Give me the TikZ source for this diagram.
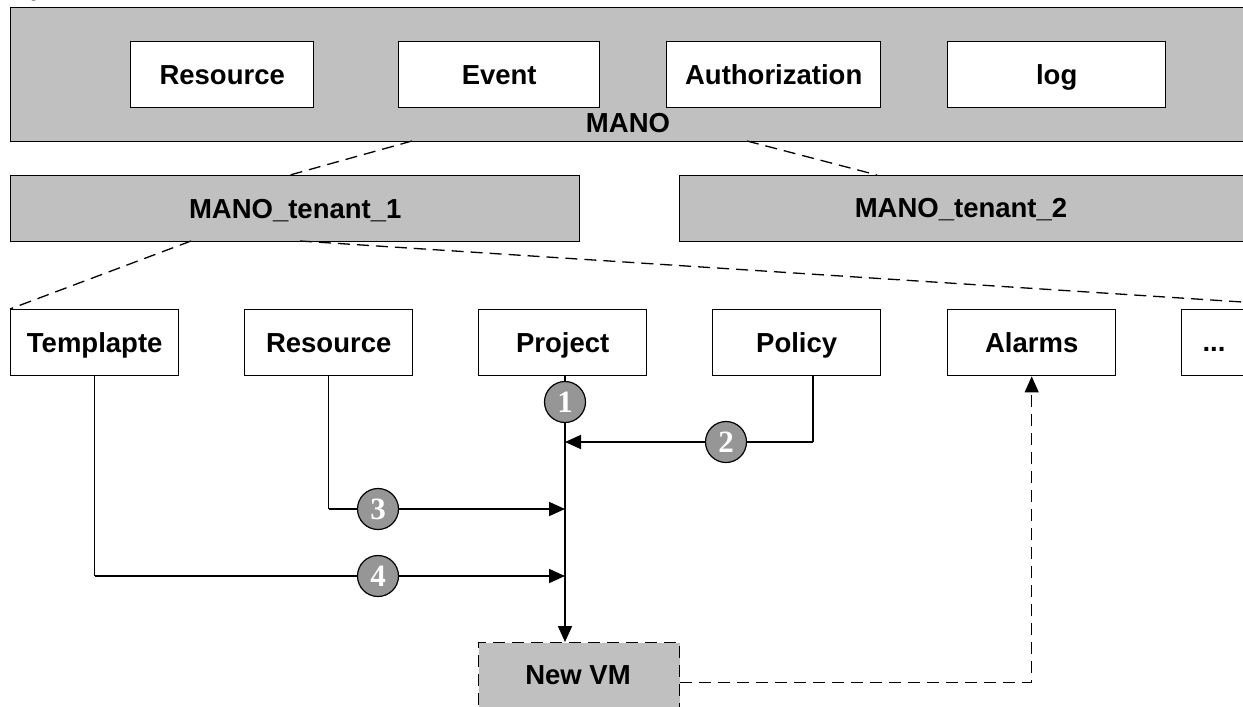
\documentclass[tikz,border=0pt]{standalone}
\usepackage{fontspec}
\setmainfont{Liberation Sans}
\newfontfamily\numfont{Liberation Serif}[BoldFont={Liberation Serif Bold}]
\usetikzlibrary{arrows.meta}
\definecolor{boxgray}{HTML}{C0C0C0}
\definecolor{dotgray}{HTML}{969696}
\begin{document}
\begin{tikzpicture}[x=1pt,y=-1pt,
  every node/.style={inner sep=0pt},
  label text/.style={font=\fontsize{27.5}{32}\selectfont\bfseries,
    text height=19.7pt, text depth=0pt},
  box/.style={draw, line width=1.4pt, fill=white, anchor=north west,
    minimum height=66pt, label text},
  graybox/.style={box, fill=boxgray},
  leaf/.style={box, minimum width=168pt},
  badge/.style={circle, draw, line width=1.2pt, fill=dotgray, minimum size=41pt,
    text=white, font=\numfont\fontsize{31}{34}\selectfont\bfseries,
    text height=21pt, text depth=0pt},
  flow/.style={line width=1.8pt, -{Triangle[length=16pt,width=14pt]}},
  link/.style={line width=1.2pt},
  tie/.style={line width=1.3pt, dash pattern=on 12pt off 7pt}]
\useasboundingbox (0,0) rectangle (1243,707);
\begin{scope}
\clip (0,0) rectangle (1243,707);

% caption above the figure
\node[anchor=base, font=\numfont\fontsize{16}{18}\selectfont] (cap) at (34,-3) {g};

% MANO frame with its four services
\node[graybox, minimum width=1300pt, minimum height=134pt] (mano) at (10,7) {};
\node[box, minimum width=183pt] (res) at (130,41) {Resource};
\node[box, minimum width=201pt] (evt) at (398,41) {Event};
\node[box, minimum width=214pt] (auth) at (666,41) {Authorization};
\node[box, minimum width=218pt] (log) at (947,41) {log};
\node[label text] (manolbl) at (628,123) {MANO};

% tenants
\node[graybox, minimum width=569pt] (t1) at (10,175) {MANO\_tenant\_1};
\node[graybox, minimum width=700pt] (t2) at (679,175) {};
\node[label text] (t2lbl) at (961,208) {MANO\_tenant\_2};

% tenant_1 objects
\node[leaf] (tpl) at (10,309) {Templapte};
\node[leaf] (rsc) at (244,309) {Resource};
\node[leaf] (prj) at (478,309) {Project};
\node[leaf] (pol) at (712,309) {Policy};
\node[leaf] (alm) at (947,309) {Alarms};
\node[leaf] (more) at (1181,309) {};
\node[label text] (morelbl) at (1214,342) {...};

% new virtual machine
\node[graybox, tie, line width=1.4pt, minimum width=201pt, minimum height=80pt] (vm) at (478,642) {};
\node[label text] (vmlbl) at (578,675) {New VM};

% hierarchy ties
\coordinate (m1) at (412,141);
\coordinate (m2) at (747,141);
\coordinate (a1) at (290,175);
\coordinate (a2) at (877,175);
\coordinate (b1) at (191,241);
\coordinate (b2) at (300,241);
\draw[tie] (m1) -- (a1);
\draw[tie] (m2) -- (a2);
\draw[tie] (b1) -- (tpl.north west);
\draw[tie] (b2) -- (more.north east);

% creation flow
\coordinate (j2) at (565,442);
\coordinate (j3) at (565,509);
\coordinate (j4) at (565,576);
\coordinate (pcol) at (813,442);
\draw[flow] (prj.south -| j2) -- (vm.north -| j2);
\draw[link] (pcol |- pol.south) -- (pcol);
\draw[flow] (pcol) -- (j2);
\draw[link] (rsc.south) -- (rsc.south |- j3);
\draw[flow] (rsc.south |- j3) -- (j3);
\draw[link] (tpl.south) -- (tpl.south |- j4);
\draw[flow] (tpl.south |- j4) -- (j4);
\draw[tie, -{Triangle[length=16pt,width=14pt]}] (vm.east) -- (alm.south |- vm.east) -- (alm.south);

% step markers
\node[badge] (s1) at (565,402) {1};
\node[badge] (s2) at (726,442) {2};
\node[badge] (s3) at (378,509) {3};
\node[badge] (s4) at (378,576) {4};
\end{scope}
\end{tikzpicture}
\end{document}
